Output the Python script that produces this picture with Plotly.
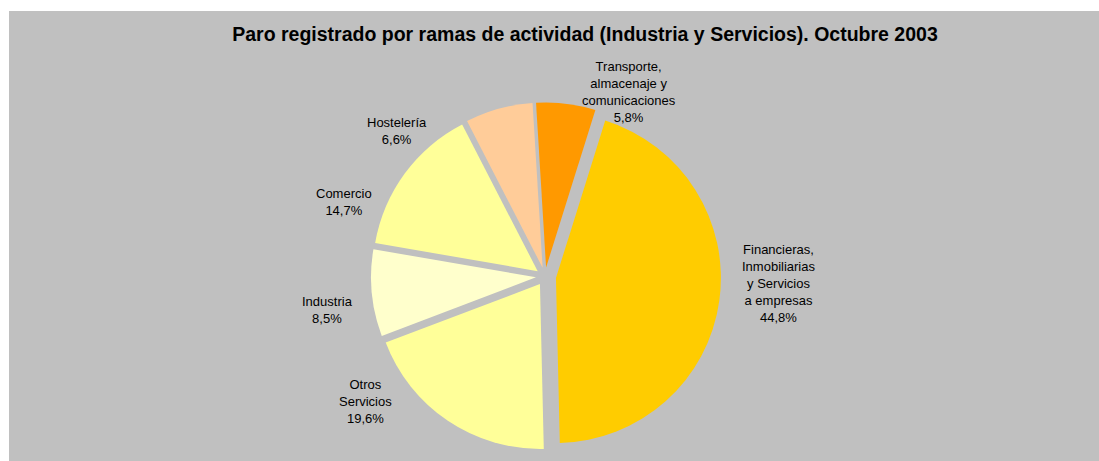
import plotly.graph_objects as go

labels = ["Transporte, almacenaje y comunicaciones",
          "Financieras, Inmobiliarias y Servicios a empresas",
          "Otros Servicios", "Industria", "Comercio", "Hostelería"]
label_lines = ["Transporte,<br>almacenaje y<br>comunicaciones",
               "Financieras,<br>Inmobiliarias<br>y Servicios<br>a empresas",
               "Otros<br>Servicios", "Industria", "Comercio", "Hostelería"]
values = [5.8, 44.8, 19.6, 8.5, 14.7, 6.6]
colors = ["#FF9900", "#FFCC00", "#FFFF99", "#FFFFCC", "#FFFF99", "#FFCC99"]
pulls = [0.055, 0.067, 0.055, 0.055, 0.055, 0.055]

# label block centres (pixels)
label_pos = [(629, 91.5), (778, 283), (365, 401), (327, 309.5), (344, 201.5), (397, 130.5)]

W, H = 1099, 461
ml, mt = 9, 11
pw, ph = W - ml, H - mt

def px_x(x):
    return (x - ml) / pw

def px_y(y):
    return (H - y) / ph

cx, cy, rr = 545, 276.5, 176

fig = go.Figure(go.Pie(
    labels=labels, values=values,
    textinfo="none",
    marker=dict(colors=colors, line=dict(width=0)),
    sort=False, direction="clockwise", rotation=-3.5,
    pull=pulls,
    showlegend=False, hoverinfo="label+percent",
    domain=dict(x=[px_x(cx - rr), px_x(cx + rr)], y=[px_y(cy + rr), px_y(cy - rr)]),
))

annotations = []
for txt, v, (lx, ly) in zip(label_lines, values, label_pos):
    annotations.append(dict(
        text=f"{txt}<br>{v:.1f}%".replace(".", ","),
        xref="paper", yref="paper", x=px_x(lx), y=px_y(ly),
        xanchor="center", yanchor="middle", showarrow=False, align="center",
        font=dict(family="Liberation Sans, Arial", size=13, color="#000000"),
    ))

fig.update_layout(
    width=W, height=H,
    margin=dict(l=ml, r=0, t=mt, b=0, pad=0),
    paper_bgcolor="#C0C0C0", plot_bgcolor="#C0C0C0",
    separators=",.",
    font=dict(family="Liberation Sans, Arial", size=13, color="#000000"),
    title=dict(text="<b>Paro registrado por ramas de actividad (Industria y Servicios). Octubre 2003</b>",
               x=585 / W, xanchor="center", y=1 - 34 / H, yanchor="middle",
               font=dict(size=19.5, color="#000000")),
    shapes=[
        dict(type="rect", xref="paper", yref="paper", x0=px_x(0), x1=0, y0=px_y(H), y1=px_y(0),
             fillcolor="#FFFFFF", line=dict(width=0), layer="below"),
        dict(type="rect", xref="paper", yref="paper", x0=px_x(0), x1=px_x(W), y0=1, y1=px_y(0),
             fillcolor="#FFFFFF", line=dict(width=0), layer="below"),
    ],
    annotations=annotations,
)

fig.write_html("out.html", config={"displayModeBar": False},
               post_script="document.body.style.margin='0';document.body.style.overflow='hidden';")
